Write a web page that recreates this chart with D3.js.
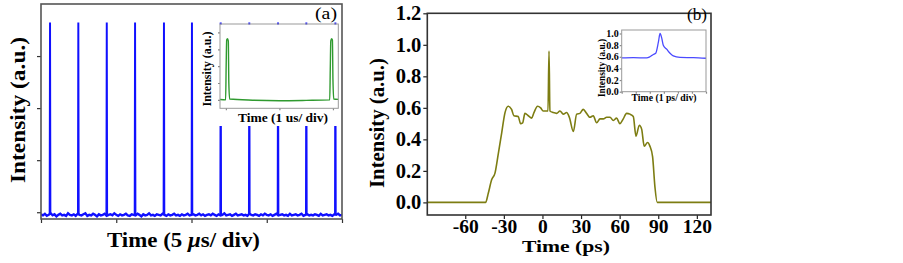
<!DOCTYPE html>
<html>
<head>
<meta charset="utf-8">
<script src="https://cdn.jsdelivr.net/npm/d3@7"></script>
<style>
body { margin: 0; background: #fff; }
text { font-family: "Liberation Serif", "Times New Roman", serif; }
</style>
</head>
<body>
<div id="chart"></div>
<script>
// ---- panel (a): pulse train, 5 us/div ----
const pulseTimes = [0.6, 2.48, 4.37, 6.25, 8.17, 10.03, 11.94, 13.84, 15.75, 17.63, 19.56];
const pulseHeight = 3.63;
const baseNoise = [-0.04,-0.06,-0.03,-0.07,-0.05,-0.02,-0.06,-0.04,-0.08,-0.05,-0.03,-0.06,-0.05,-0.07,-0.02,-0.05,
	-0.06,-0.04,-0.07,-0.03,-0.05,-0.06,-0.04,-0.02,-0.07,-0.05,-0.06,-0.03,-0.05,-0.08,-0.04,-0.06,-0.05,-0.03,
	-0.07,-0.05,-0.04,-0.06,-0.02,-0.05,-0.07,-0.04,-0.06,-0.05,-0.03,-0.06,-0.07,-0.04,-0.05,-0.06,-0.03,-0.05,
	-0.08,-0.04,-0.06,-0.05,-0.02,-0.06,-0.05,-0.07,-0.04,-0.05,-0.06,-0.03,-0.05,-0.07,-0.04,-0.06,-0.05,-0.03,
	-0.06,-0.05,-0.07,-0.04,-0.06,-0.05,-0.03,-0.06,-0.05,-0.04,-0.06,-0.05,-0.03,-0.06,-0.04,-0.07,-0.05,-0.04,
	-0.06,-0.03,-0.05,-0.07,-0.04,-0.06,-0.05,-0.02,-0.06,-0.05,-0.04,-0.07,-0.05,-0.03,-0.06,-0.05,-0.04,-0.06,
	-0.05,-0.07,-0.03,-0.05,-0.06,-0.04,-0.05,-0.07,-0.04,-0.06,-0.03,-0.05,-0.06,-0.04,-0.07,-0.05,-0.03,-0.06,
	-0.05,-0.04,-0.06,-0.05,-0.07,-0.03,-0.06,-0.05,-0.04,-0.06,-0.05,-0.03,-0.07,-0.05,-0.04,-0.06,-0.05,-0.06,
	-0.04,-0.05,-0.07,-0.03,-0.06,-0.05,-0.04,-0.06,-0.05,-0.07,-0.04,-0.05,-0.03,-0.06,-0.05];
const aYTicks = [0, 1, 2, 3];
const aXTicks = [0, 5, 10, 15, 20];

// inset (a): two pulses, 1 us/div
const inATime = [-0.11, -0.005, 0.005, 0.015, 0.03, 0.045, 0.055, 0.07, 0.5, 1.0, 1.5, 1.94, 1.95, 1.96, 1.975, 1.99, 2.0, 2.015, 2.1];
const inAVal  = [0.02, 0.0, 2.0, 3.55, 3.63, 3.5, 1.0, 0.05, -0.02, -0.05, -0.03, 0.0, 1.8, 3.5, 3.63, 3.55, 1.2, 0.05, 0.03];
const inAYTicks = [0, 1, 2, 3, 4];
const inAXTicks = [0, 1, 2];

// ---- panel (b): pulse profile vs time (ps) ----
const bTime = [-89.5, -44.2, -42.1, -39.5, -36.9, -34.3, -31.7, -29.1, -26.6, -24, -22.2, -18.8, -17, -15.4, -13.6, -11,
	-8.4, -6.6, -3.8, -1.4, 0.6, 3.2, 4.3, 5.1, 5.8, 8.4, 11, 13.6, 16.2, 18.8, 20.9, 24, 26.6, 29.1, 31.7, 34.3, 36.9,
	39.5, 42.1, 44.7, 47.3, 49.9, 52.5, 55.1, 57.6, 60.2, 62.8, 65.4, 68, 70.6, 72.7, 75.3, 77.1, 79.1, 81.7, 83.5,
	85.6, 87.4, 89.2, 131];
const bInt = [0, 0, 0.058, 0.143, 0.186, 0.31, 0.44, 0.57, 0.61, 0.59, 0.55, 0.545, 0.50, 0.505, 0.565, 0.55,
	0.535, 0.57, 0.61, 0.60, 0.58, 0.58, 0.58, 0.96, 0.58, 0.57, 0.565, 0.58, 0.56, 0.57, 0.54, 0.45, 0.56, 0.565, 0.59,
	0.565, 0.54, 0.55, 0.505, 0.53, 0.53, 0.54, 0.54, 0.52, 0.535, 0.50, 0.53, 0.565, 0.56, 0.545, 0.42, 0.49, 0.465,
	0.357, 0.38, 0.357, 0.29, 0.10, 0, 0];
const bYTicks = [0, 0.2, 0.4, 0.6, 0.8, 1.0, 1.2];
const bXTicks = [-60, -30, 0, 30, 60, 90, 120];

// inset (b): 1 ps/div
const inBTime = [0, 0.83, 1.78, 2.01, 2.25, 2.42, 2.61, 2.73, 2.85, 2.96, 3.2, 3.44, 3.67, 4.15, 5.1, 6];
const inBVal  = [0.58, 0.585, 0.58, 0.6, 0.64, 0.66, 0.85, 1.0, 0.92, 0.8, 0.73, 0.66, 0.615, 0.59, 0.585, 0.575];
const inBYTicks = [0, 0.2, 0.4, 0.6, 0.8, 1.0];
const inBXTicks = [0, 1, 2, 3, 4, 5, 6];

const svg = d3.select("#chart").append("svg")
	.attr("width", 903)
	.attr("height", 263);

// axis without its domain path, styled
const styleAxis = (g, color, fontSize) => {
	g.select(".domain").remove();
	g.selectAll(".tick line").attr("stroke", color).attr("stroke-width", 1.2);
	g.selectAll(".tick text")
		.attr("fill", "#000")
		.style("font-family", "'Liberation Serif', serif")
		.style("font-weight", "bold")
		.style("font-size", fontSize + "px");
}

// text helper; len stretches the text to the measured width
const addText = (x, y, str, size, opts = {}) => {
	const t = svg.append("text")
		.attr("x", x).attr("y", y)
		.attr("text-anchor", opts.anchor || "middle")
		.style("font-size", size + "px")
		.style("font-weight", opts.weight || "bold")
		.attr("fill", "#000")
		.text(str);
	if (opts.len) t.attr("textLength", opts.len).attr("lengthAdjust", "spacingAndGlyphs");
	if (opts.rotate) t.attr("transform", `rotate(-90, ${x}, ${y})`);
	return t;
}

// ================= panel (a) =================
const xA = d3.scaleLinear().domain([0, 20]).range([41, 342]);
const yA = d3.scaleLinear().domain([-0.13, 4]).range([219, 4]);

svg.append("clipPath").attr("id", "clipA")
	.append("rect").attr("x", 41).attr("y", 4).attr("width", 301).attr("height", 215);

const step = 20 / (baseNoise.length - 1);
const noisePts = baseNoise.map((v, i) => ({t: i * step, v: v}));

svg.append("path")
	.datum(noisePts)
	.attr("clip-path", "url(#clipA)")
	.attr("fill", "none")
	.attr("stroke", "#1010ff")
	.attr("stroke-width", 2.4)
	.attr("d", d3.line().x(d => xA(d.t)).y(d => yA(d.v)));

// the pulses themselves
const pulsePts = pulseTimes.map(p => [
	{t: p - 0.035, v: -0.05}, {t: p - 0.012, v: pulseHeight}, {t: p + 0.012, v: pulseHeight}, {t: p + 0.035, v: -0.05}
]);
svg.append("g")
	.attr("clip-path", "url(#clipA)")
	.selectAll("path")
	.data(pulsePts)
	.join("path")
	.attr("fill", "none")
	.attr("stroke", "#1010ff")
	.attr("stroke-width", 1.6)
	.attr("d", d3.line().x(d => xA(d.t)).y(d => yA(d.v)));

svg.append("g")
	.attr("transform", "translate(41,0)")
	.call(d3.axisLeft(yA).tickValues(aYTicks).tickSize(4).tickFormat(""))
	.call(g => styleAxis(g, "#333", 10));
svg.append("g")
	.attr("transform", "translate(0,219)")
	.call(d3.axisBottom(xA).tickValues(aXTicks).tickSize(4).tickFormat(""))
	.call(g => styleAxis(g, "#333", 10));

svg.append("rect")
	.attr("x", 41).attr("y", 4).attr("width", 301).attr("height", 215)
	.attr("fill", "none").attr("stroke", "#555").attr("stroke-width", 1.6);

// inset (a), white backing hides the pulse tops behind it
svg.append("rect")
	.attr("x", 198).attr("y", 24.5).attr("width", 143).attr("height", 101.5)
	.attr("fill", "#fff");

const xIA = d3.scaleLinear().domain([-0.11, 2.1]).range([220, 338.3]);
const yIA = d3.scaleLinear().domain([-0.5, 4.5]).range([108.3, 24]);

svg.append("path")
	.datum(d3.zip(inATime, inAVal))
	.attr("fill", "none")
	.attr("stroke", "#2f9a2f")
	.attr("stroke-width", 1.4)
	.attr("d", d3.line().x(d => xIA(d[0])).y(d => yIA(d[1])).curve(d3.curveMonotoneX));

svg.append("g")
	.attr("transform", "translate(220,0)")
	.call(d3.axisLeft(yIA).tickValues(inAYTicks).tickSize(2).tickFormat(""))
	.call(g => styleAxis(g, "#888", 8));
svg.append("g")
	.attr("transform", "translate(0,108.3)")
	.call(d3.axisBottom(xIA).tickValues(inAXTicks).tickSize(2).tickFormat(""))
	.call(g => styleAxis(g, "#888", 8));

svg.append("rect")
	.attr("x", 220).attr("y", 24).attr("width", 118.3).attr("height", 84.3)
	.attr("fill", "none").attr("stroke", "#999").attr("stroke-width", 1);

addText(211, 69, "Intensity (a.u.)", 12, {rotate: true, len: 75});
addText(283, 121.5, "Time (1 us/ div)", 12.3, {len: 90});
addText(337, 19, "(a)", 16, {anchor: "end", weight: "normal", len: 22});

addText(24.5, 110, "Intensity (a.u.)", 21, {rotate: true, len: 146});
const tA = addText(183.5, 246.5, "Time (5 ", 20);
tA.append("tspan").style("font-style", "italic").text("\u03bc");
tA.append("tspan").text("s/ div)");
tA.attr("textLength", 153).attr("lengthAdjust", "spacingAndGlyphs");

// ================= panel (b) =================
const xB = d3.scaleLinear().domain([-89.5, 131]).range([427.3, 711]);
const yB = d3.scaleLinear().domain([-0.08, 1.2]).range([215, 13.3]);

svg.append("path")
	.datum(d3.zip(bTime, bInt))
	.attr("fill", "none")
	.attr("stroke", "#7d7d12")
	.attr("stroke-width", 1.6)
	.attr("d", d3.line().x(d => xB(d[0])).y(d => yB(d[1])).curve(d3.curveMonotoneX));

svg.append("g")
	.attr("transform", "translate(427.3,0)")
	.call(d3.axisLeft(yB).tickValues(bYTicks).tickSize(4).tickPadding(2).tickFormat(d3.format(".1f")))
	.call(g => styleAxis(g, "#222", 20.5));
svg.append("g")
	.attr("transform", "translate(0,215)")
	.call(d3.axisBottom(xB).tickValues(bXTicks).tickSize(4).tickPadding(0.5).tickFormat(d => d.toString()))
	.call(g => styleAxis(g, "#222", 19.5));

svg.append("rect")
	.attr("x", 427.3).attr("y", 13.3).attr("width", 283.7).attr("height", 201.7)
	.attr("fill", "none").attr("stroke", "#333").attr("stroke-width", 1.6);

// inset (b)
const xIB = d3.scaleLinear().domain([0, 6]).range([621.7, 706]);
const yIB = d3.scaleLinear().domain([0, 1.06]).range([91.7, 30]);

svg.append("rect")
	.attr("x", 621.7).attr("y", 30).attr("width", 84.3).attr("height", 61.7)
	.attr("fill", "#fff");

svg.append("path")
	.datum(d3.zip(inBTime, inBVal))
	.attr("fill", "none")
	.attr("stroke", "#4a4aff")
	.attr("stroke-width", 1.3)
	.attr("d", d3.line().x(d => xIB(d[0])).y(d => yIB(d[1])).curve(d3.curveMonotoneX));

svg.append("g")
	.attr("transform", "translate(621.7,0)")
	.call(d3.axisLeft(yIB).tickValues(inBYTicks).tickSize(2).tickPadding(1).tickFormat(d3.format(".1f")))
	.call(g => styleAxis(g, "#888", 10));
svg.append("g")
	.attr("transform", "translate(0,91.7)")
	.call(d3.axisBottom(xIB).tickValues(inBXTicks).tickSize(2).tickFormat(""))
	.call(g => styleAxis(g, "#888", 10));

svg.append("rect")
	.attr("x", 621.7).attr("y", 30).attr("width", 84.3).attr("height", 61.7)
	.attr("fill", "none").attr("stroke", "#999").attr("stroke-width", 1);

addText(605, 68, "Intensity (a.u.)", 9.5, {rotate: true, len: 58});
addText(664, 101, "Time (1 ps/ div)", 9.7, {len: 65});
addText(707, 20, "(b)", 17, {anchor: "end", weight: "normal", len: 20});

addText(384, 123, "Intensity (a.u.)", 20, {rotate: true, len: 130});
addText(566, 252, "Time (ps)", 17, {len: 88});
</script>
</body>
</html>
